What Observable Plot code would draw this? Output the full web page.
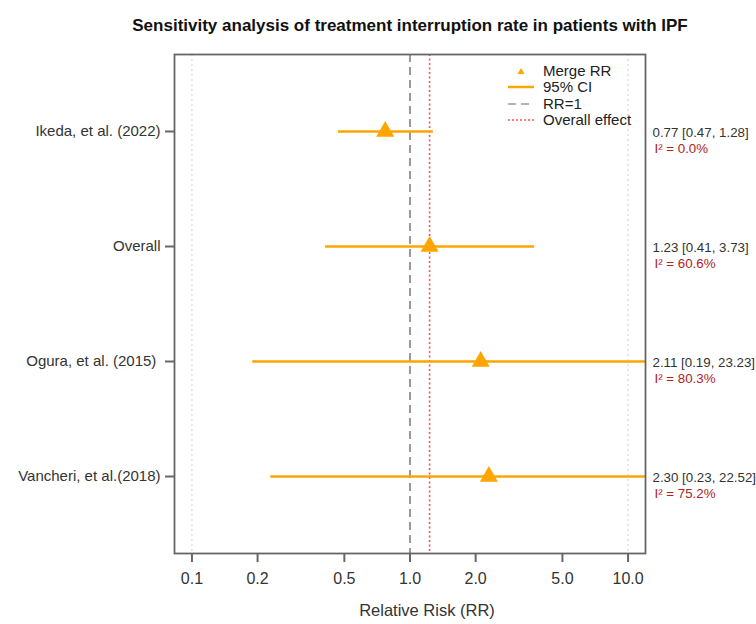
<!DOCTYPE html>
<html><head><meta charset="utf-8">
<script src="https://cdn.jsdelivr.net/npm/d3@7"></script>
<script src="https://cdn.jsdelivr.net/npm/@observablehq/plot@0.6"></script>
<style>body{margin:0;overflow:hidden;background:#fff}</style>
</head><body><div id="chart"></div>
<script>
const titleText = "Sensitivity analysis of treatment interruption rate in patients with IPF";
const xLabel = "Relative Risk (RR)";
const studies = ["Ikeda, et al. (2022)", "Overall", "Ogura, et al. (2015)\u00a0", "Vancheri, et al.(2018)"];
const rr = [0.77, 1.23, 2.11, 2.30];
const lower = [0.47, 0.41, 0.19, 0.23];
const upper = [1.28, 3.73, 23.23, 22.52];
const i2 = [0.0, 60.6, 80.3, 75.2];
const overallRR = 1.23;
const xTicks = [0.1, 0.2, 0.5, 1, 2, 5, 10];
const gridTicks = [0.1, 10];
const legendLabels = ["Merge RR", "95% CI", "RR=1", "Overall effect"];

const rows = studies.map((s, i) => ({
  study: s, rr: rr[i], lo: lower[i], hi: upper[i],
  label: `${rr[i].toFixed(2)} [${lower[i].toFixed(2)}, ${upper[i].toFixed(2)}]`,
  i2label: `I\u00b2 = ${i2[i].toFixed(1)}%`
}));

const ORANGE = "#FFA500";
const font = "'Liberation Sans', Arial, Helvetica, sans-serif";

const plot = Plot.plot({
  width: 756, height: 624,
  marginLeft: 174, marginRight: 111, marginTop: 54, marginBottom: 71,
  style: {fontFamily: font, background: "#fff", overflow: "hidden"},
  x: {type: "log", domain: [10 ** -1.08, 10 ** 1.08], label: null},
  y: {type: "point", domain: studies, padding: 0.66, label: null},
  marks: [
    Plot.ruleX(gridTicks, {stroke: "#d8d8d8", strokeWidth: 1.2, strokeDasharray: "2,3"}),
    Plot.ruleX([1], {stroke: "#999", strokeWidth: 2, strokeDasharray: "8,5"}),
    Plot.ruleX([overallRR], {stroke: "#f25555", strokeWidth: 1.6, strokeDasharray: "2,2.5"}),
    Plot.ruleY(rows, {y: "study", x1: "lo", x2: "hi", stroke: ORANGE, strokeWidth: 2.5, clip: true}),
    Plot.dot(rows, {x: "rr", y: "study", symbol: "triangle", r: 6.7, fill: ORANGE, stroke: "none"}),
    Plot.frame({stroke: "#666", strokeWidth: 1.8}),
    Plot.axisX({ticks: xTicks, tickFormat: d => d.toFixed(1), tickSize: 9, tickPadding: 10,
      fontSize: 16, fill: "#333", stroke: "#666", strokeWidth: 2, label: null}),
    Plot.axisY({tickSize: 9, tickPadding: 5, fontSize: 15, fill: "#333", stroke: "#666", strokeWidth: 2, label: null}),
    Plot.text(rows, {y: "study", text: "label", frameAnchor: "right", textAnchor: "start", dx: 7, dy: 1,
      fontSize: 13.3, fill: "#333"}),
    Plot.text(rows, {y: "study", text: "i2label", frameAnchor: "right", textAnchor: "start", dx: 9, dy: 17,
      fontSize: 13.3, fill: "#B22222"}),
    Plot.text([titleText], {frameAnchor: "top", dy: -36, fontSize: 17, fontWeight: "bold", fill: "#111"}),
    Plot.text([xLabel], {frameAnchor: "bottom", dy: 62, dx: 17, fontSize: 16.5, fill: "#333"})
  ]
});
document.getElementById("chart").appendChild(plot);

// Legend (top-right inside the frame)
const svg = d3.select(plot);
const lg = svg.append("g").attr("font-family", font).attr("font-size", 15).attr("fill", "#222").attr("text-anchor", "start");
const lx0 = 508, lx1 = 534, tx = 543, ly = [71, 87, 104, 120];
lg.append("path").attr("d", d3.symbol(d3.symbolTriangle, 21)()).attr("transform", `translate(${(lx0 + lx1) / 2},${ly[0] + 1})`).attr("fill", ORANGE);
lg.append("line").attr("x1", lx0).attr("x2", lx1).attr("y1", ly[1]).attr("y2", ly[1]).attr("stroke", ORANGE).attr("stroke-width", 2.5);
lg.append("line").attr("x1", lx0).attr("x2", lx1).attr("y1", ly[2]).attr("y2", ly[2]).attr("stroke", "#999").attr("stroke-width", 1.5).attr("stroke-dasharray", "8,5");
lg.append("line").attr("x1", lx0).attr("x2", lx1).attr("y1", ly[3]).attr("y2", ly[3]).attr("stroke", "#f25555").attr("stroke-width", 1.5).attr("stroke-dasharray", "2,2");
legendLabels.forEach((t, i) => {
  lg.append("text").attr("x", tx).attr("y", ly[i]).attr("dy", "0.35em").attr("text-anchor", "start").text(t);
});
</script>
</body></html>
